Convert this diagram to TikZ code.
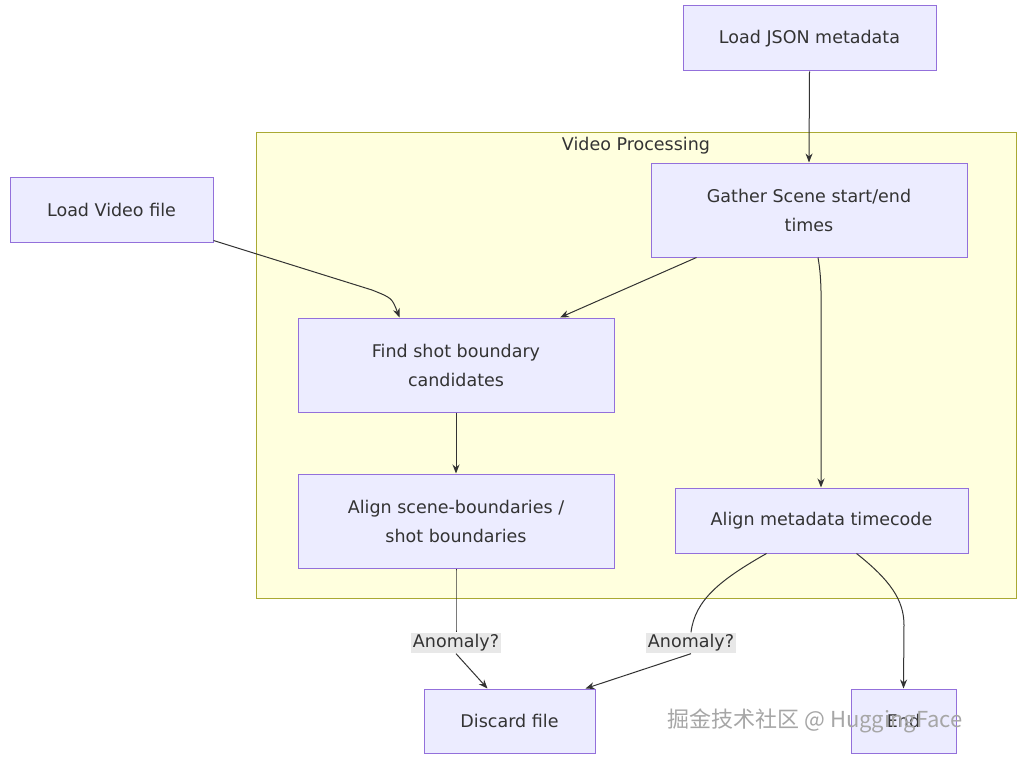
\documentclass[tikz,border=0pt]{standalone}
\usepackage{fontspec}
\setmainfont{DejaVu Sans}
\newfontfamily\cjkfont{Noto Sans CJK SC}
\usetikzlibrary{calc,arrows.meta}
\definecolor{nfill}{HTML}{ECECFF}
\definecolor{nline}{HTML}{9370DB}
\definecolor{cfill}{HTML}{FFFFDE}
\definecolor{cline}{HTML}{AAAA33}
\definecolor{eline}{HTML}{333333}
\definecolor{lbg}{HTML}{E8E8E8}
\begin{document}
\begin{tikzpicture}[x=1pt,y=-1pt,
  box/.style={draw=nline,fill=nfill,line width=1pt,inner sep=0pt,align=center,
    font=\fontsize{17.5}{29}\selectfont,text=eline},
  edge/.style={draw=eline,line width=1pt,-{Stealth[length=9pt,width=7pt]}},
  lab/.style={fill=lbg,inner sep=2pt,font=\fontsize{17.5}{21}\selectfont,text=eline}]
\useasboundingbox (0,0) rectangle (1026,760);
\fill[white] (0,0) rectangle (1026,760);
\draw[cline,fill=cfill,line width=1pt] (256,132) rectangle (1016,598);
\node[font=\fontsize{17.5}{21}\selectfont,text=eline] (title) at (636,146) {Video Processing};
\node[box,minimum width=253pt,minimum height=65pt] (json) at (809.5,38.5) {Load JSON metadata};
\node[box,minimum width=316pt,minimum height=94pt] (gather) at (809,210) {Gather Scene start/end\\times};
\node[box,minimum width=203pt,minimum height=65pt] (video) at (111.5,209.5) {Load Video file};
\node[box,minimum width=316pt,minimum height=94pt] (find) at (456,365) {Find shot boundary\\candidates};
\node[box,minimum width=316pt,minimum height=94pt] (alignS) at (456,521) {Align scene-boundaries /\\shot boundaries};
\node[box,minimum width=293pt,minimum height=65pt] (alignM) at (821.5,520.5) {Align metadata timecode};
\node[box,minimum width=171pt,minimum height=64pt] (discard) at (509.5,721) {Discard file};
\node[box,minimum width=105pt,minimum height=64pt] (end) at (903.5,721) {End};
\draw[edge] (json.south) -- (gather.north);
\draw[edge] ($(video.south east)+(0,-2)$) -- (372,290) .. controls (392,298) .. ($(find.north west)+(102,0)$);
\draw[edge] ($(gather.south west)+(46,0)$) -- ($(find.north)+(104,0)$);
\draw[edge] ($(gather.south)+(9,0)$) .. controls (822,280) and (821,300) .. (821,330) -- ($(alignM.north)+(-0.5,0)$);
\draw[edge] (find.south) -- (alignS.north);
\node[lab] (an1) at (456,643) {Anomaly?};
\node[lab] (an2) at (691,643) {Anomaly?};
\draw[eline,line width=1pt] (alignS.south) .. controls (456,600) and (456,615) .. (an1.north);
\draw[edge] (an1.south) -- ($(discard.north)+(-22,0)$);
\draw[eline,line width=1pt] ($(alignM.south)+(-55,0)$) .. controls (720,580) and (695,600) .. (an2.north);
\draw[edge] (an2.south) -- ($(discard.north)+(76,0)$);
\draw[edge] ($(alignM.south)+(35,0)$) .. controls (890,580) and (904,600) .. (904,625) -- (end.north);
\node[text=gray!70,font=\cjkfont\fontsize{22}{26}\selectfont,anchor=west] (wm) at (664,721) {掘金技术社区 @ HuggingFace};
\end{tikzpicture}
\end{document}
